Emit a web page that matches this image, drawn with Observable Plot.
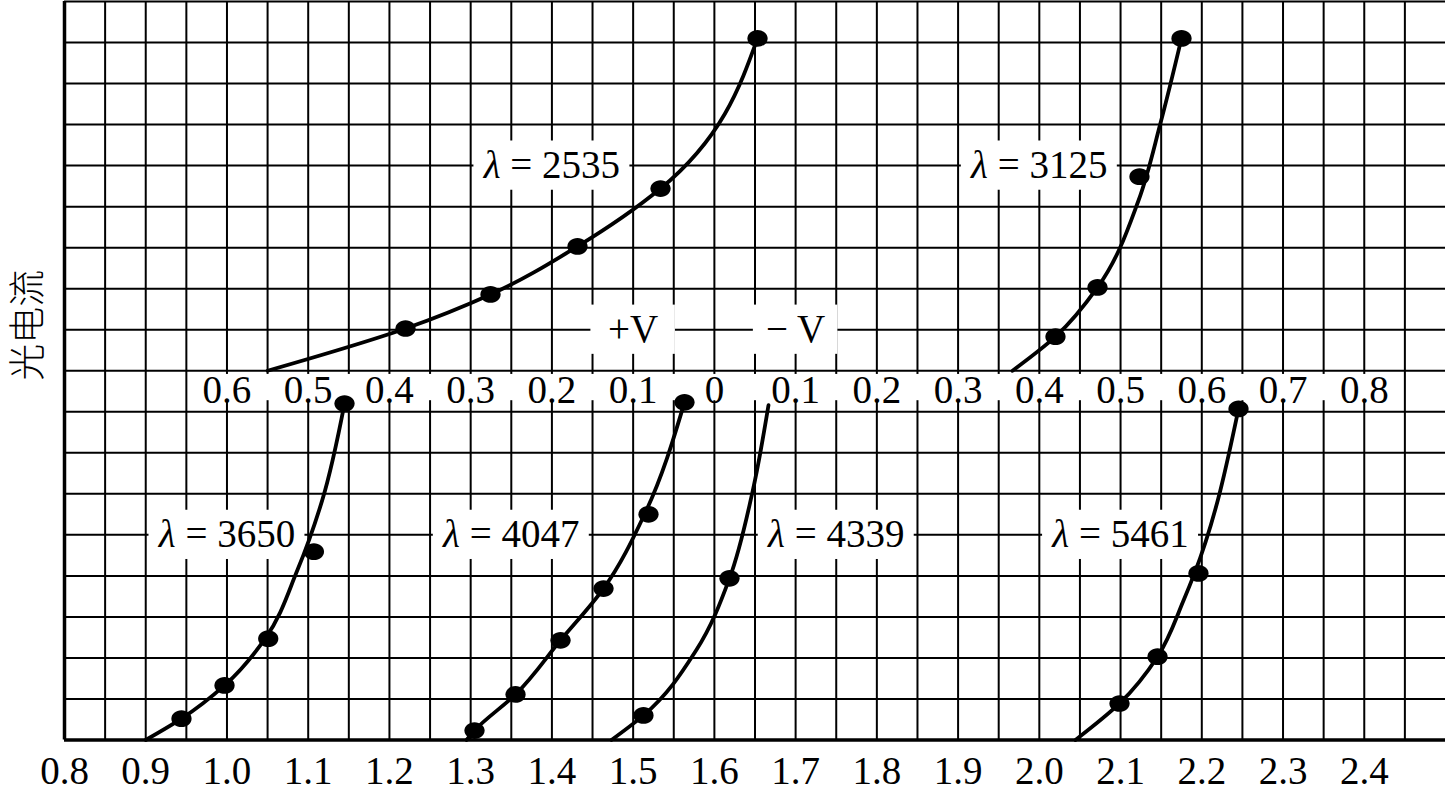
<!DOCTYPE html>
<html>
<head>
<meta charset="utf-8">
<script src="https://cdn.jsdelivr.net/npm/d3@7"></script>
<script src="https://cdn.jsdelivr.net/npm/@observablehq/plot@0.6"></script>
<style>
  html, body { margin: 0; padding: 0; background: #fff; }
  #chart svg { display: block; }
</style>
</head>
<body>
<div id="chart"></div>
<script>
// ---------- data ----------
const xTicks = [0.8, 0.9, 1.0, 1.1, 1.2, 1.3, 1.4, 1.5, 1.6, 1.7, 1.8, 1.9, 2.0, 2.1, 2.2, 2.3, 2.4];
const midTickX = [1.0, 1.1, 1.2, 1.3, 1.4, 1.5, 1.6, 1.7, 1.8, 1.9, 2.0, 2.1, 2.2, 2.3, 2.4];
const midTickLabels = ["0.6", "0.5", "0.4", "0.3", "0.2", "0.1", "0", "0.1", "0.2", "0.3", "0.4", "0.5", "0.6", "0.7", "0.8"];
const yTitle = "光电流";

const wavelengths = [2535, 3125, 3650, 4047, 4339, 5461];
const labelX = [1.4, 2.0, 1.0, 1.35, 1.75, 2.1];
const labelY = [14, 14, 5, 5, 5, 5];
const signText = ["+V", "\u2212 V"];
const signX = [1.5, 1.7];
const signY = [10, 10];

// smooth curves
const curve2535 = [[1.05, 9.0], [1.2198, 10.03], [1.3244, 10.86], [1.4315, 12.03], [1.5337, 13.44], [1.6531, 17.10]];
const curve3125 = [[1.967, 9.0], [2.0199, 9.83], [2.0716, 11.03], [2.1221, 13.15], [2.1491, 15.03], [2.1750, 17.10]];
const curve3650 = [[0.90, 0], [0.944, 0.52], [0.997, 1.33], [1.047, 2.47], [1.0865, 4.13], [1.1172, 5.84], [1.1447, 8.20]];
const curve4047 = [[1.2949, 0], [1.3047, 0.23], [1.3552, 1.11], [1.4106, 2.43], [1.4635, 3.69], [1.5140, 5.50], [1.5632, 8.23]];
const curve4339 = [[1.4733, 0], [1.5127, 0.60], [1.5780, 2.20], [1.6186, 3.94], [1.6464, 6.00], [1.6666, 8.16]];
const curve5461 = [[2.0445, 0], [2.0987, 0.89], [2.1455, 2.03], [2.1775, 3.40], [2.1910, 4.06], [2.2452, 8.07]];

// measured points
const dots2535 = [[1.2198, 10.03], [1.3244, 10.86], [1.4315, 12.03], [1.5337, 13.44], [1.6531, 17.10]];
const dots3125 = [[2.0199, 9.83], [2.0716, 11.03], [2.1233, 13.73], [2.1750, 17.10]];
const dots3650 = [[0.944, 0.52], [0.997, 1.33], [1.0508, 2.47], [1.107, 4.59], [1.1447, 8.20]];
const dots4047 = [[1.3047, 0.23], [1.3552, 1.11], [1.4106, 2.43], [1.4635, 3.69], [1.5189, 5.50], [1.5632, 8.23]];
const dots4339 = [[1.5127, 0.60], [1.6186, 3.94]];
const dots5461 = [[2.0987, 0.89], [2.1455, 2.03], [2.1959, 4.06], [2.2452, 8.07]];

// ---------- build tables ----------
const curves = [curve2535, curve3125, curve3650, curve4047, curve4339, curve5461];
const dotsets = [dots2535, dots3125, dots3650, dots4047, dots4339, dots5461];
const lineRows = curves.flatMap((c, i) => c.map(([x, y]) => ({x, y, s: wavelengths[i]})));
const dotRows = dotsets.flatMap((c, i) => c.map(([x, y]) => ({x, y, s: wavelengths[i]})));
const labels = wavelengths.map((w, i) => ({text: `λ = ${w}`, x: labelX[i], y: labelY[i], hw: 0.096}))
  .concat(signText.map((t, i) => ({text: t, x: signX[i], y: signY[i], hw: 0.052})));

const gridX = d3.range(17, 50).map(k => k / 20);   // 0.85 … 2.45
const gridY = d3.range(1, 19);                      // 1 … 18
const midAxisY = 9;

const serif = "'Liberation Serif', 'Times New Roman', serif";
const FS = 39;

const ellipse = {
  draw(ctx, size) {
    const r = Math.sqrt(size / Math.PI);
    const rx = r * 1.15, ry = r * 0.95, k = 0.5523;
    ctx.moveTo(rx, 0);
    ctx.bezierCurveTo(rx, ry * k, rx * k, ry, 0, ry);
    ctx.bezierCurveTo(-rx * k, ry, -rx, ry * k, -rx, 0);
    ctx.bezierCurveTo(-rx, -ry * k, -rx * k, -ry, 0, -ry);
    ctx.bezierCurveTo(rx * k, -ry, rx, -ry * k, rx, 0);
    ctx.closePath();
  }
};

const chart = Plot.plot({
  width: 1445,
  height: 801,
  marginLeft: 64,
  marginRight: 0,
  marginTop: 1,
  marginBottom: 61.5,
  x: {domain: [0.8, 2.5], axis: null},
  y: {domain: [0, 18], axis: null},
  style: {background: "#fff", fontFamily: serif, color: "#000"},
  marks: [
    Plot.ruleX(gridX, {x: d => d, stroke: "#000", strokeWidth: 2}),
    Plot.ruleY(gridY, {y: d => d, stroke: "#000", strokeWidth: 2}),
    Plot.ruleX([0.8], {x: d => d, stroke: "#000", strokeWidth: 3.5}),
    Plot.ruleY([0], {y: d => d, stroke: "#000", strokeWidth: 3.5}),
    // white band behind the voltage scale
    Plot.rect([midTickX], {
      x1: d => d[0] - 0.047, x2: d => d[d.length - 1] + 0.047,
      y1: midAxisY - 0.73, y2: midAxisY - 0.09, fill: "#fff"
    }),
    // white boxes behind labels
    Plot.rect(labels, {
      x1: d => d.x - d.hw, x2: d => d.x + d.hw,
      y1: d => d.y - 0.6, y2: d => d.y + 0.6, fill: "#fff"
    }),
    Plot.text(labels, {x: "x", y: "y", text: "text", fontSize: FS, fontFamily: serif, fill: "#000"}),
    Plot.text(midTickX, {
      x: d => d, y: midAxisY - 0.48, text: (d, i) => midTickLabels[i],
      fontSize: FS, fontFamily: serif, fill: "#000"
    }),
    Plot.axisX({
      anchor: "bottom", ticks: xTicks, tickFormat: d => d.toFixed(1),
      tickSize: 0, tickPadding: 16, fontSize: FS, fontFamily: serif, label: null, fill: "#000"
    }),
    Plot.text([yTitle], {
      frameAnchor: "left", text: d => d, rotate: -90, dx: -35, dy: 10,
      fontSize: 37, fontFamily: "'Noto Sans CJK SC', sans-serif", fontWeight: 300, fill: "#000"
    }),
    Plot.line(lineRows, {x: "x", y: "y", z: "s", curve: "monotone-y", stroke: "#000", strokeWidth: 3.8}),
    Plot.dot(dotRows, {x: "x", y: "y", r: 8.8, symbol: ellipse, fill: "#000", stroke: "none"})
  ]
});

// italic lambda
d3.select(chart).selectAll("text").each(function () {
  const t = this.textContent;
  if (t.startsWith("λ")) {
    const el = d3.select(this);
    el.text(null);
    el.append("tspan").attr("font-style", "italic").text("λ");
    el.append("tspan").text(t.slice(1));
  }
});

document.getElementById("chart").appendChild(chart);
</script>
</body>
</html>
